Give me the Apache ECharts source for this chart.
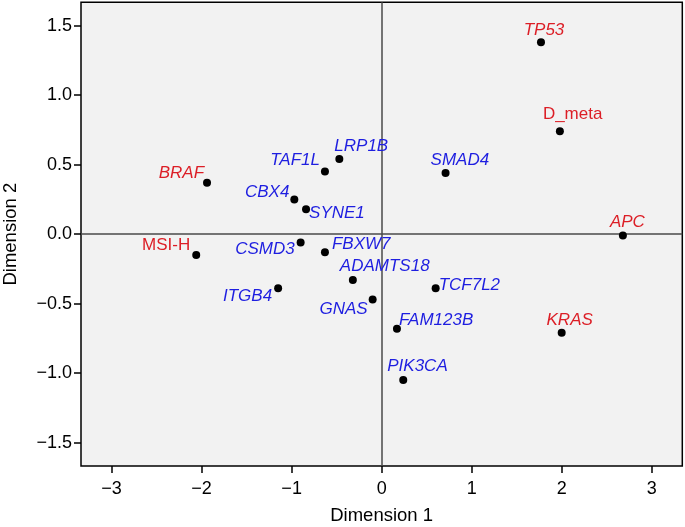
<!DOCTYPE html>
<html>
<head>
<meta charset="utf-8">
<script src="https://cdn.jsdelivr.net/npm/echarts@6/dist/echarts.min.js"></script>
<style>
html,body{margin:0;padding:0;background:#fff;}
#chart{width:685px;height:527px;}
</style>
</head>
<body>
<div id="chart"></div>
<script>
// ---- data ----
const names = ['TP53','D_meta','APC','KRAS','BRAF','MSI-H','LRP1B','TAF1L','CBX4','SYNE1','CSMD3','FBXW7','SMAD4','ADAMTS18','ITGB4','GNAS','TCF7L2','FAM123B','PIK3CA'];
const dim1 = [1.77, 1.98, 2.68, 2.00, -1.94, -2.06, -0.47, -0.63, -0.97, -0.84, -0.90, -0.63, 0.71, -0.32, -1.15, -0.10, 0.60, 0.17, 0.24];
const dim2 = [1.38, 0.74, -0.01, -0.71, 0.37, -0.15, 0.54, 0.45, 0.25, 0.18, -0.06, -0.13, 0.44, -0.33, -0.39, -0.47, -0.39, -0.68, -1.05];
const group = ['clin','clin','clin','clin','clin','clin','gene','gene','gene','gene','gene','gene','gene','gene','gene','gene','gene','gene','gene'];
const italicNames = ['TP53','APC','KRAS','BRAF'];
const xTicks = [-3, -2, -1, 0, 1, 2, 3];
const yTicks = [-1.5, -1.0, -0.5, 0.0, 0.5, 1.0, 1.5];

// ---- label placement (style only) ----
const labelPlacement = {
  'TP53': ['center', 3, -12],
  'D_meta': ['left', -17, -16.5],
  'APC': ['center', 4.5, -13],
  'KRAS': ['center', 8, -13],
  'BRAF': ['right', -3, -9],
  'MSI-H': ['right', -6, -10],
  'LRP1B': ['left', -5, -13],
  'TAF1L': ['right', -5, -11],
  'CBX4': ['right', -5, -7],
  'SYNE1': ['left', 3, 4],
  'CSMD3': ['right', -6, 7],
  'FBXW7': ['left', 7, -8],
  'SMAD4': ['left', -15, -13],
  'ADAMTS18': ['left', -13, -14],
  'ITGB4': ['right', -6, 8],
  'GNAS': ['right', -5, 10],
  'TCF7L2': ['left', 3, -3.5],
  'FAM123B': ['left', 2, -8],
  'PIK3CA': ['left', -16, -14]
};

const FONT = '"Liberation Sans", Arial, Helvetica, sans-serif';
const RED = '#dc1e26';
const BLUE = '#1e1ee0';

const minus = v => (v < 0 ? '\u2212' : '') + Math.abs(v);

const points = names.map((n, i) => {
  const p = labelPlacement[n];
  const isGene = group[i] === 'gene';
  const italic = isGene || italicNames.indexOf(n) >= 0;
  return {
    name: n,
    value: [dim1[i], dim2[i]],
    label: {
      show: true,
      formatter: n,
      position: 'inside',
      align: p[0],
      verticalAlign: 'middle',
      offset: [p[1], p[2]],
      color: isGene ? BLUE : RED,
      opacity: 1,
      fontStyle: italic ? 'italic' : 'normal',
      fontSize: 17,
      fontFamily: FONT
    }
  };
});

const chart = echarts.init(document.getElementById('chart'), null, {renderer: 'canvas'});
chart.setOption({
  animation: false,
  backgroundColor: '#ffffff',
  grid: {
    left: 81, top: 2.3, width: 601.3, height: 463.7,
    show: true, backgroundColor: '#f2f2f2', borderColor: '#000', borderWidth: 1.5,
    containLabel: false,
    outerBoundsMode: 'none'
  },
  xAxis: {
    type: 'value', min: -3.34, max: 3.34,
    name: 'Dimension 1', nameLocation: 'middle', nameGap: 40,
    nameTextStyle: {fontSize: 18.5, color: '#000', fontFamily: FONT},
    axisLine: {show: false, onZero: false},
    axisTick: {show: true, length: 7, lineStyle: {color: '#000', width: 1.5}, customValues: xTicks},
    axisLabel: {show: true, margin: 14, fontSize: 18, color: '#000', fontFamily: FONT,
      customValues: xTicks, formatter: v => minus(v)},
    splitLine: {show: false}
  },
  yAxis: {
    type: 'value', min: -1.668, max: 1.668,
    name: 'Dimension 2', nameLocation: 'middle', nameGap: 61, nameRotate: 90,
    nameTextStyle: {fontSize: 18.5, color: '#000', fontFamily: FONT},
    axisLine: {show: false, onZero: false},
    axisTick: {show: true, length: 7, lineStyle: {color: '#000', width: 1.5}, customValues: yTicks},
    axisLabel: {show: true, margin: 9, fontSize: 18, color: '#000', fontFamily: FONT,
      customValues: yTicks, formatter: v => (v < 0 ? '\u2212' : '') + Math.abs(v).toFixed(1)},
    splitLine: {show: false}
  },
  series: [{
    type: 'scatter',
    symbol: 'circle',
    symbolSize: 8,
    itemStyle: {color: '#000', opacity: 1},
    data: points,
    z: 5,
    markLine: {
      silent: true,
      symbol: ['none', 'none'],
      label: {show: false},
      lineStyle: {color: '#4a4a4a', width: 1.5, type: 'solid', opacity: 1},
      data: [{xAxis: 0}, {yAxis: 0}],
      animation: false
    }
  }]
});
</script>
</body>
</html>
